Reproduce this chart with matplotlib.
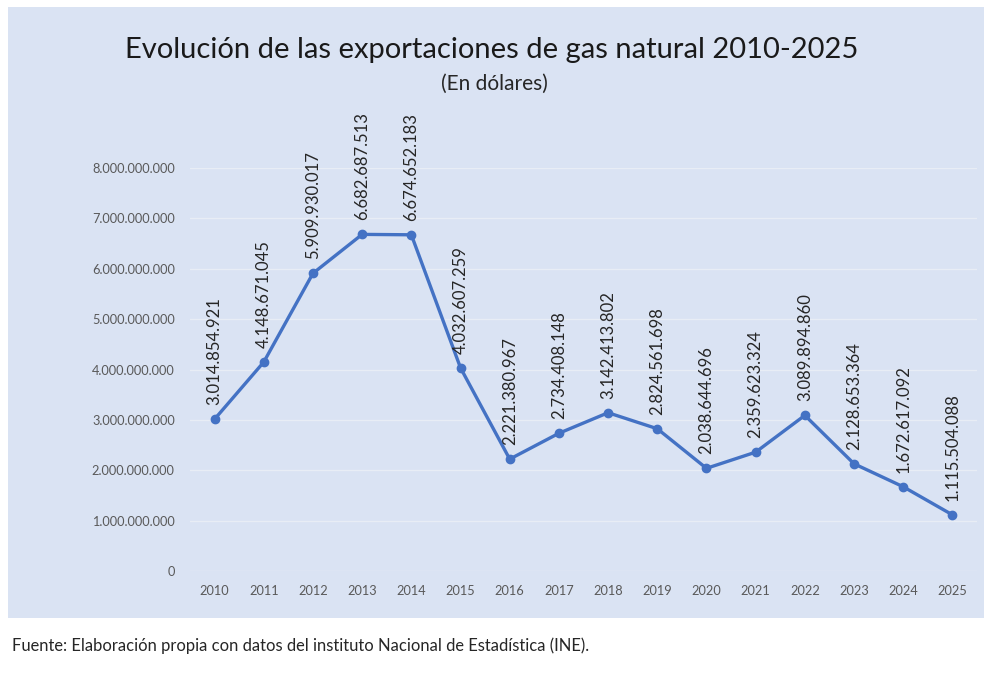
import matplotlib.pyplot as plt
from matplotlib.patches import Rectangle
from matplotlib.ticker import FuncFormatter

plt.rcParams['font.family'] = ['Lato', 'DejaVu Sans']

years = [str(y) for y in range(2010, 2026)]
exports = [3014854921, 4148671045, 5909930017, 6682687513, 6674652183,
           4032607259, 2221380967, 2734408148, 3142413802, 2824561698,
           2038644696, 2359623324, 3089894860, 2128653364, 1672617092,
           1115504088]
y_ticks = [0, 1e9, 2e9, 3e9, 4e9, 5e9, 6e9, 7e9, 8e9]

BG = "#dae3f3"
LINE = "#4472c4"


def dotted(v):
    return f"{int(v):,}".replace(",", ".")


fig = plt.figure(figsize=(10, 6.85), dpi=100)
fig.patch.set_facecolor("white")
fig.add_artist(Rectangle((0.008, 0.098), 0.976, 0.892, transform=fig.transFigure,
                         facecolor=BG, edgecolor="none", zorder=0))

ax = fig.add_axes([0.19, 0.1664, 0.787, 0.5883])
ax.set_facecolor("none")
x = range(len(years))
ax.plot(x, exports, color=LINE, lw=2.4, marker="o", ms=6, zorder=3)

# value labels, rotated like the original
for xi, v in zip(x, exports):
    ax.annotate(dotted(v), (xi, v), xytext=(0, 10), textcoords="offset points",
                rotation=90, ha="center", va="bottom", fontsize=12,
                color="#262626", annotation_clip=False)

ax.set_xlim(-0.5, len(years) - 0.5)
ax.set_ylim(0, 8e9)
ax.set_xticks(list(x))
ax.set_xticklabels(years)
ax.set_yticks(y_ticks)
ax.yaxis.set_major_formatter(FuncFormatter(lambda v, p: dotted(v)))
ax.tick_params(length=0, labelsize=9.2, labelcolor="#595959", pad=10)
ax.tick_params(axis="y", pad=11)
ax.grid(axis="y", color="#e8edf5", lw=1)
ax.set_axisbelow(True)
for s in ax.spines.values():
    s.set_visible(False)

fig.text(0.492, 0.927, "Evolución de las exportaciones de gas natural 2010-2025",
         ha="center", va="center", fontsize=21, color="#1a1a1a")
fig.text(0.494, 0.877, "(En dólares)", ha="center", va="center",
         fontsize=15, color="#262626")
fig.text(0.012, 0.058, "Fuente: Elaboración propia con datos del instituto Nacional de Estadística (INE).",
         ha="left", va="center", fontsize=11.9, color="#262626")

fig.savefig("out.png", dpi=100, facecolor="white")
